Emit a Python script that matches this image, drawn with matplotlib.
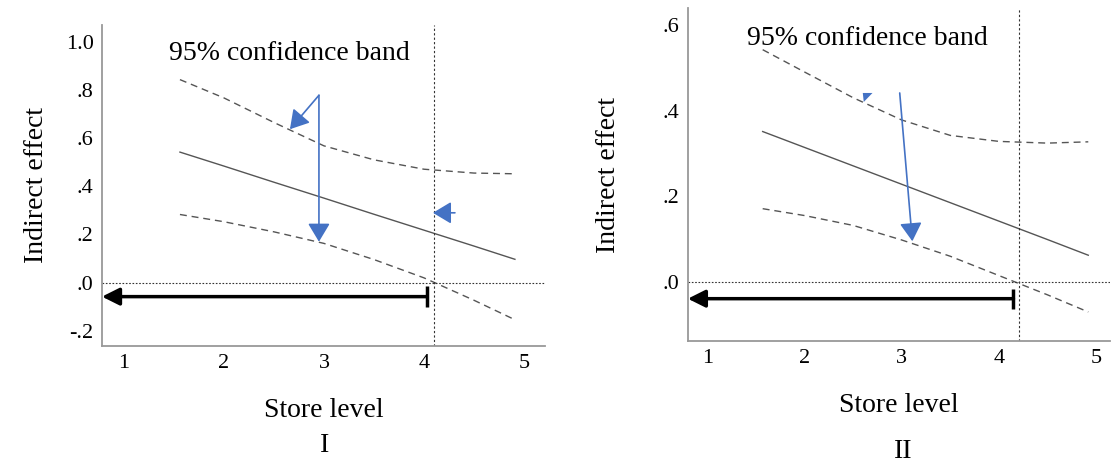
import matplotlib.pyplot as plt

plt.rcParams['font.family'] = ['Liberation Serif', 'DejaVu Serif']

# panel I
x1 = [1.56, 2.0, 2.5, 3.0, 3.5, 4.0, 4.5, 4.91]
mid1 = [0.542, 0.484, 0.417, 0.351, 0.284, 0.218, 0.152, 0.097]
upper1 = [0.843, 0.767, 0.665, 0.568, 0.51, 0.471, 0.455, 0.452]
lower1 = [0.283, 0.253, 0.211, 0.163, 0.096, 0.02, -0.073, -0.154]
yticks1 = [-0.2, 0.0, 0.2, 0.4, 0.6, 0.8, 1.0]
ylabels1 = ['-.2', '.0', '.2', '.4', '.6', '.8', '1.0']
cross1 = 4.1

# panel II
x2 = [1.57, 2.0, 2.5, 3.0, 3.5, 4.0, 4.5, 4.92]
mid2 = [0.351, 0.314, 0.271, 0.228, 0.185, 0.142, 0.099, 0.0624]
upper2 = [0.542, 0.49, 0.43, 0.378, 0.342, 0.328, 0.324, 0.327]
lower2 = [0.171, 0.155, 0.132, 0.098, 0.06, 0.015, -0.03, -0.07]
yticks2 = [0.0, 0.2, 0.4, 0.6]
ylabels2 = ['.0', '.2', '.4', '.6']
cross2 = 4.21

xticks = [1, 2, 3, 4, 5]
blue = '#4472C4'
grey = '#555555'

fig = plt.figure(figsize=(11.13, 4.66), dpi=100)
ax1 = fig.add_axes([0.0916, 0.2575, 0.398, 0.689])
ax2 = fig.add_axes([0.618, 0.268, 0.379, 0.7146])


def base(ax, x, mid, upper, lower, cross, yt, yl, xlim, ylim, ypad):
    ax.plot(x, mid, color=grey, lw=1.0)
    ax.plot(x, upper, color=grey, lw=1.0, dashes=(5, 3.5))
    ax.plot(x, lower, color=grey, lw=1.0, dashes=(5, 3.5))
    ax.axhline(0, color='#333333', lw=0.8, ls=(0, (1.5, 1.5)))
    ax.axvline(cross, color='#333333', lw=0.8, ls=(0, (2, 2)))
    ax.set_xlim(*xlim)
    ax.set_ylim(*ylim)
    ax.set_xticks(xticks)
    ax.set_xticklabels([str(t) for t in xticks], fontsize=16)
    ax.set_yticks(yt)
    ax.set_yticklabels(yl, fontsize=16)
    ax.tick_params(length=0, pad=6)
    for s in ['top', 'right']:
        ax.spines[s].set_visible(False)
    for s in ['left', 'bottom']:
        ax.spines[s].set_color('#999999')
        ax.spines[s].set_linewidth(1.3)
    ax.set_xlabel('Store level', fontsize=20, labelpad=18)
    ax.set_ylabel('Indirect effect', fontsize=20, labelpad=ypad)


base(ax1, x1, mid1, upper1, lower1, cross1, yticks1, ylabels1, (0.78, 5.21), (-0.263, 1.07), 12)
base(ax2, x2, mid2, upper2, lower2, cross2, yticks2, ylabels2, (0.8, 5.14), (-0.138, 0.639), 30)

ax1.text(2.65, 0.95, '95% confidence band', fontsize=20, ha='center', va='center')
ax2.text(2.65, 0.567, '95% confidence band', fontsize=20, ha='center', va='center')

bstyle = dict(arrowstyle='-|>,head_length=0.75,head_width=0.45', color=blue, lw=1.2,
              mutation_scale=15, shrinkA=0, shrinkB=0)
ax1.annotate('', xy=(2.95, 0.17), xytext=(2.95, 0.778), arrowprops=bstyle)
ax1.annotate('', xy=(2.66, 0.637), xytext=(2.95, 0.778), arrowprops=bstyle)
ax1.annotate('', xy=(4.09, 0.29), xytext=(4.31, 0.29), arrowprops=bstyle)
ax2.annotate('', xy=(3.11, 0.095), xytext=(2.98, 0.441), arrowprops=bstyle)
ax2.fill([2.60, 2.70, 2.61], [0.441, 0.441, 0.42], color=blue, lw=0)

kstyle = dict(arrowstyle='-|>,head_length=0.7,head_width=0.35', color='black', lw=2.5,
              mutation_scale=15, shrinkA=0, shrinkB=0)
ax1.annotate('', xy=(0.78, -0.058), xytext=(4.03, -0.058), arrowprops=kstyle)
ax1.plot([4.03, 4.03], [-0.015, -0.1], color='black', lw=2.5, solid_capstyle='butt')
ax2.annotate('', xy=(0.8, -0.039), xytext=(4.15, -0.039), arrowprops=kstyle)
ax2.plot([4.15, 4.15], [-0.016, -0.062], color='black', lw=2.5, solid_capstyle='butt')

fig.text(325 / 1113, 1 - 445 / 466, 'I', fontsize=20, ha='center', va='center')
fig.text(903 / 1113, 1 - 451 / 466, 'II', fontsize=20, ha='center', va='center')

fig.savefig('out.png', dpi=100)
